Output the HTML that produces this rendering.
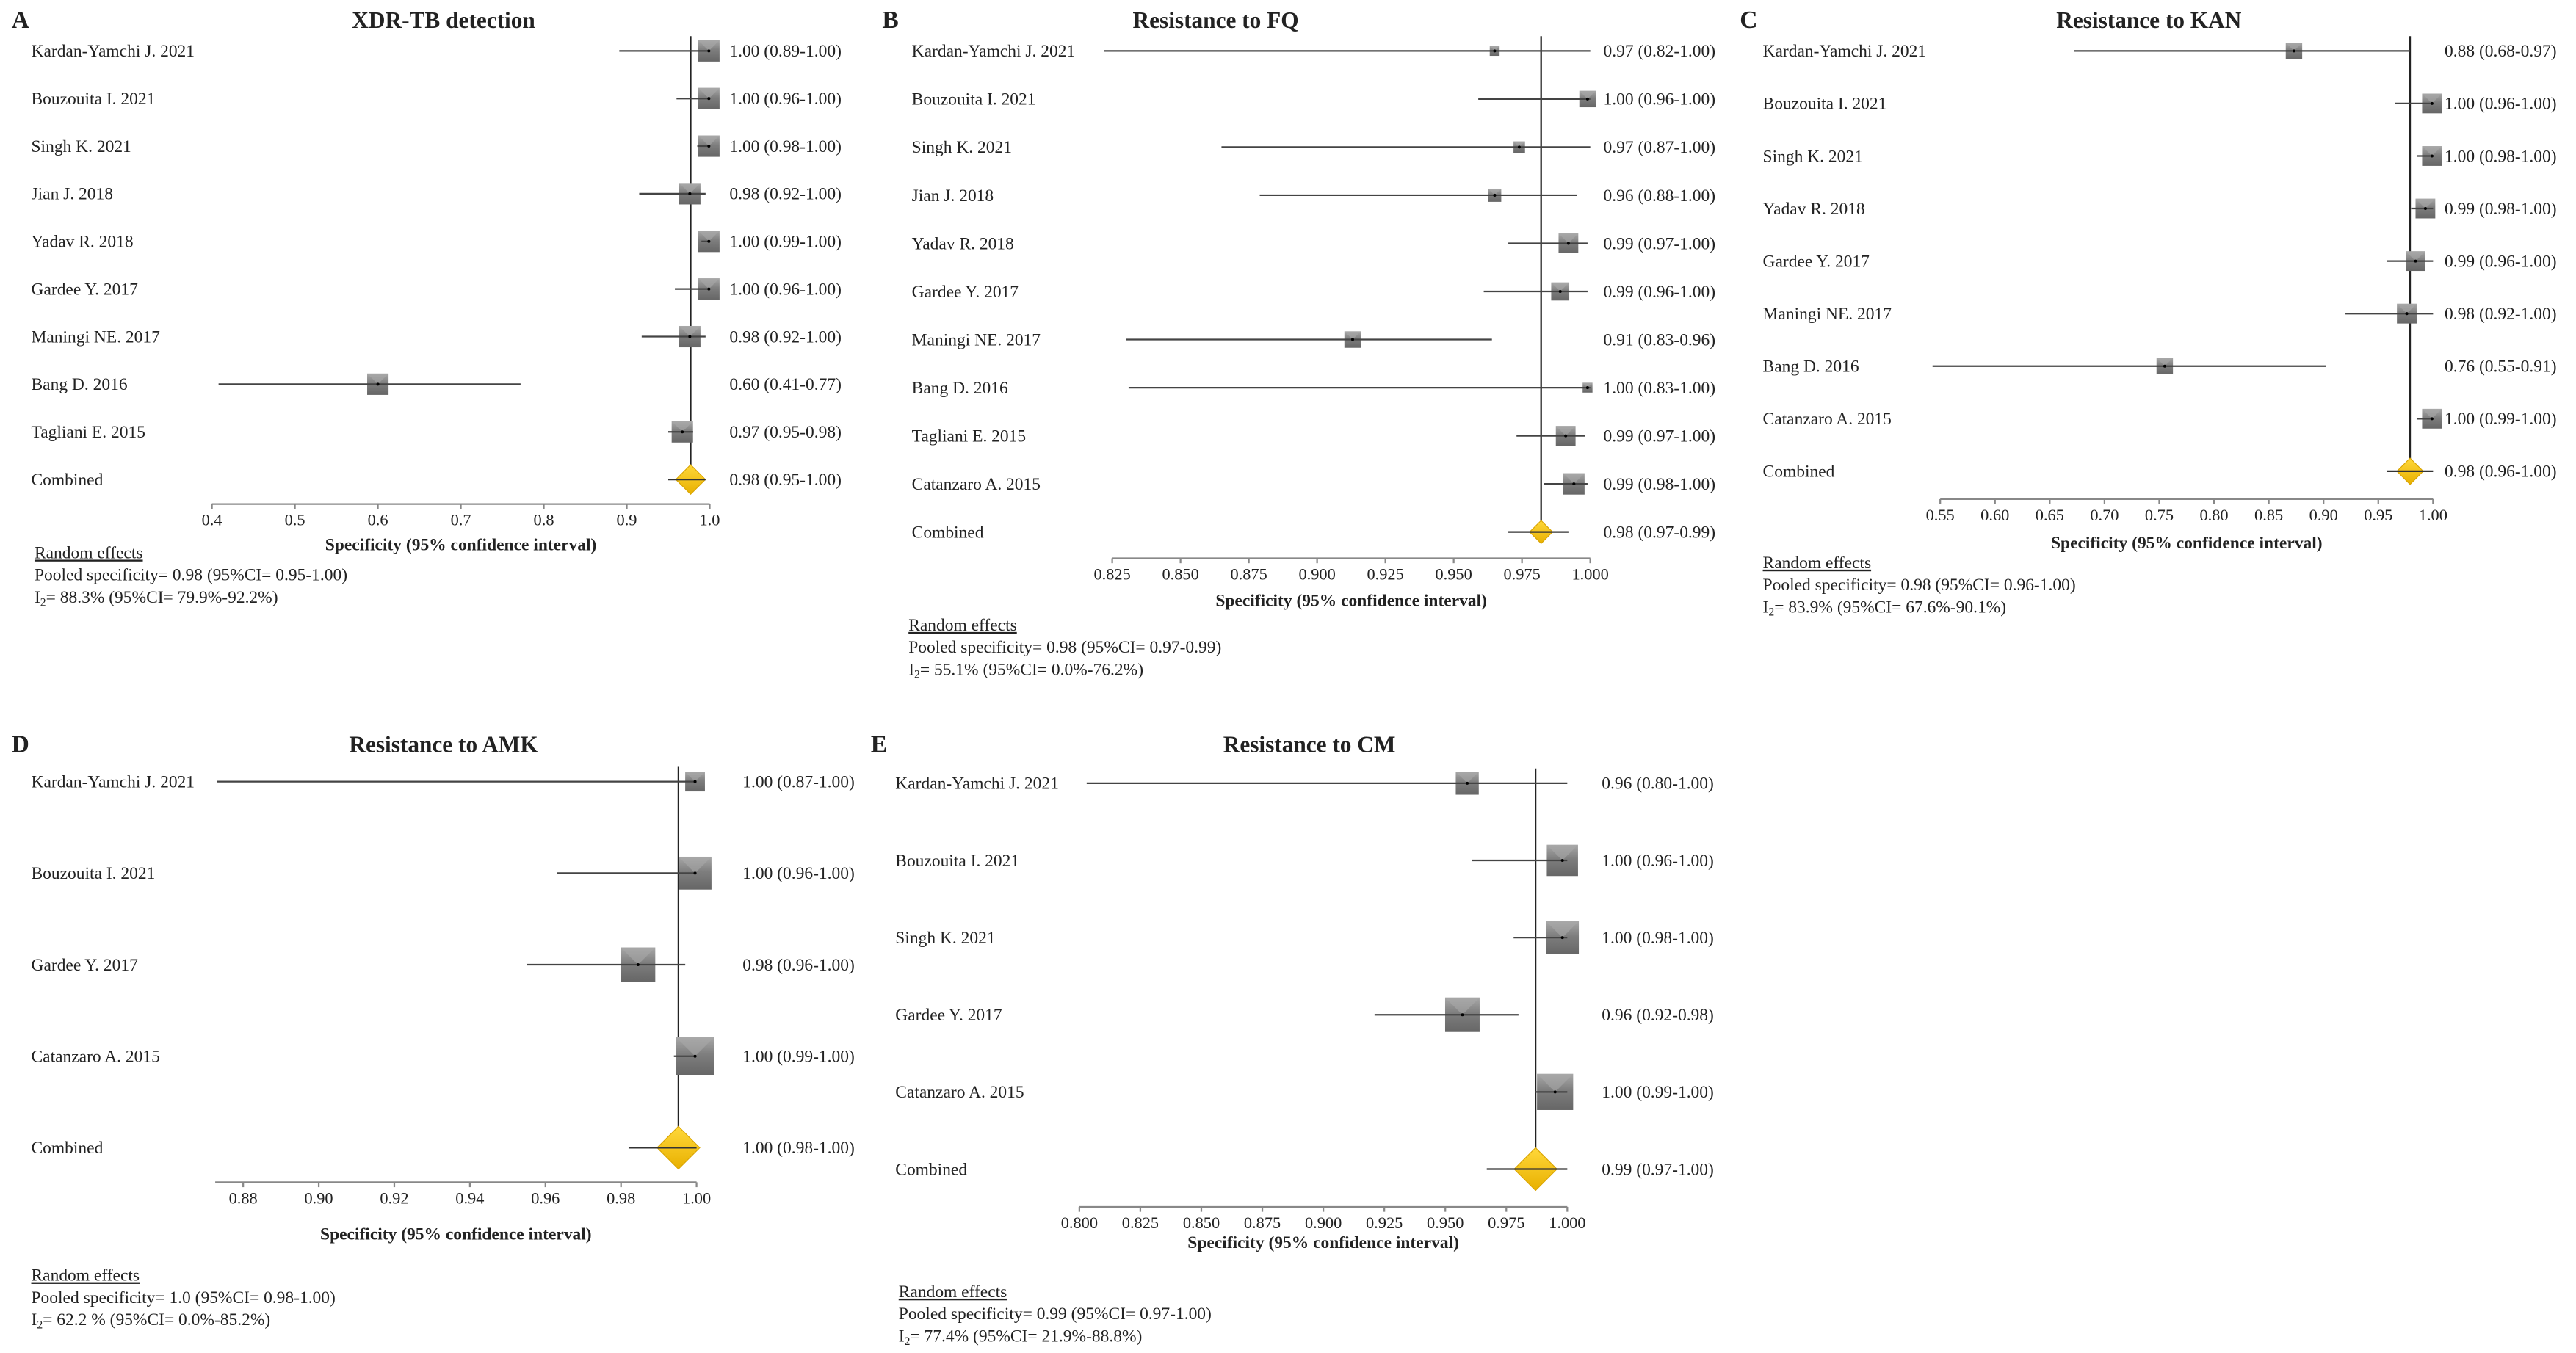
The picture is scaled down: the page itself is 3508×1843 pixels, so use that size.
<!DOCTYPE html>
<html><head><meta charset="utf-8"><style>
html,body{margin:0;padding:0;background:#fff;}
svg{display:block;}
text{font-family:"Liberation Serif",serif;fill:#222;}
</style></head><body>
<svg id="fig" width="3508" height="1843" viewBox="0 0 1568 824" preserveAspectRatio="none" xmlns="http://www.w3.org/2000/svg">
<defs>
<linearGradient id="boxg" x1="0" y1="0" x2="0" y2="1">
<stop offset="0" stop-color="#a8a8a8"/><stop offset="0.45" stop-color="#7e7e7e"/><stop offset="1" stop-color="#666"/>
</linearGradient>
<linearGradient id="diag" x1="0" y1="0" x2="0" y2="1">
<stop offset="0" stop-color="#ffd83a"/><stop offset="1" stop-color="#e8b000"/>
</linearGradient>
</defs>
</svg>
<script>
// ---- Panel A: XDR-TB detection ----
const aStudies = ["Kardan-Yamchi J. 2021","Bouzouita I. 2021","Singh K. 2021","Jian J. 2018","Yadav R. 2018","Gardee Y. 2017","Maningi NE. 2017","Bang D. 2016","Tagliani E. 2015","Combined"];
const aEst = [0.999,0.999,0.999,0.976,0.999,0.999,0.976,0.600,0.967,0.977];
const aLo  = [0.891,0.960,0.985,0.915,0.990,0.958,0.918,0.408,0.950,0.950];
const aHi  = [1.000,1.000,1.000,0.995,1.000,1.000,0.995,0.772,0.980,0.995];
const aWeight = [6.5,6.5,6.5,6.5,6.5,6.5,6.5,6.5,6.5,9];
const aText = ["1.00 (0.89-1.00)","1.00 (0.96-1.00)","1.00 (0.98-1.00)","0.98 (0.92-1.00)","1.00 (0.99-1.00)","1.00 (0.96-1.00)","0.98 (0.92-1.00)","0.60 (0.41-0.77)","0.97 (0.95-0.98)","0.98 (0.95-1.00)"];
const aTicks = [0.4,0.5,0.6,0.7,0.8,0.9,1.0];
const aTickLabels = ["0.4","0.5","0.6","0.7","0.8","0.9","1.0"];
const aDomain = [0.4,1.0];
// ---- Panel B: Resistance to FQ ----
const bStudies = ["Kardan-Yamchi J. 2021","Bouzouita I. 2021","Singh K. 2021","Jian J. 2018","Yadav R. 2018","Gardee Y. 2017","Maningi NE. 2017","Bang D. 2016","Tagliani E. 2015","Catanzaro A. 2015","Combined"];
const bEst = [0.965,0.999,0.974,0.965,0.992,0.989,0.913,0.999,0.991,0.994,0.982];
const bLo  = [0.822,0.959,0.865,0.879,0.970,0.961,0.830,0.831,0.973,0.983,0.970];
const bHi  = [1.000,1.000,1.000,0.995,0.999,0.999,0.964,1.000,0.998,0.999,0.992];
const bWeight = [3,5,3.5,4,6,5.5,5,3,6,6.5,7];
const bText = ["0.97 (0.82-1.00)","1.00 (0.96-1.00)","0.97 (0.87-1.00)","0.96 (0.88-1.00)","0.99 (0.97-1.00)","0.99 (0.96-1.00)","0.91 (0.83-0.96)","1.00 (0.83-1.00)","0.99 (0.97-1.00)","0.99 (0.98-1.00)","0.98 (0.97-0.99)"];
const bTicks = [0.825,0.85,0.875,0.9,0.925,0.95,0.975,1.0];
const bTickLabels = ["0.825","0.850","0.875","0.900","0.925","0.950","0.975","1.000"];
const bDomain = [0.825,1.0];
// ---- Panel C: Resistance to KAN ----
const cStudies = ["Kardan-Yamchi J. 2021","Bouzouita I. 2021","Singh K. 2021","Yadav R. 2018","Gardee Y. 2017","Maningi NE. 2017","Bang D. 2016","Catanzaro A. 2015","Combined"];
const cEst = [0.873,0.999,0.999,0.993,0.984,0.976,0.755,0.999,0.979];
const cLo  = [0.672,0.965,0.985,0.980,0.958,0.920,0.543,0.985,0.958];
const cHi  = [0.979,1.000,1.000,1.000,1.000,1.000,0.902,1.000,1.000];
const cWeight = [5,6,6,6,6,6,5,6,8];
const cText = ["0.88 (0.68-0.97)","1.00 (0.96-1.00)","1.00 (0.98-1.00)","0.99 (0.98-1.00)","0.99 (0.96-1.00)","0.98 (0.92-1.00)","0.76 (0.55-0.91)","1.00 (0.99-1.00)","0.98 (0.96-1.00)"];
const cTicks = [0.55,0.6,0.65,0.7,0.75,0.8,0.85,0.9,0.95,1.0];
const cTickLabels = ["0.55","0.60","0.65","0.70","0.75","0.80","0.85","0.90","0.95","1.00"];
const cDomain = [0.55,1.0];
// ---- Panel D: Resistance to AMK ----
const dStudies = ["Kardan-Yamchi J. 2021","Bouzouita I. 2021","Gardee Y. 2017","Catanzaro A. 2015","Combined"];
const dEst = [0.9996,0.9996,0.9845,0.9996,0.9952];
const dLo  = [0.873,0.963,0.955,0.994,0.982];
const dHi  = [1.000,1.000,0.997,1.000,1.000];
const dWeight = [6,10,10.5,11.5,13];
const dText = ["1.00 (0.87-1.00)","1.00 (0.96-1.00)","0.98 (0.96-1.00)","1.00 (0.99-1.00)","1.00 (0.98-1.00)"];
const dTicks = [0.88,0.9,0.92,0.94,0.96,0.98,1.0];
const dTickLabels = ["0.88","0.90","0.92","0.94","0.96","0.98","1.00"];
const dDomain = [0.8726,1.0];
// ---- Panel E: Resistance to CM ----
const eStudies = ["Kardan-Yamchi J. 2021","Bouzouita I. 2021","Singh K. 2021","Gardee Y. 2017","Catanzaro A. 2015","Combined"];
const eEst = [0.959,0.998,0.998,0.957,0.995,0.987];
const eLo  = [0.803,0.961,0.978,0.921,0.987,0.967];
const eHi  = [1.000,1.000,1.000,0.980,1.000,1.000];
const eWeight = [7,9.5,10,10.5,11,13];
const eText = ["0.96 (0.80-1.00)","1.00 (0.96-1.00)","1.00 (0.98-1.00)","0.96 (0.92-0.98)","1.00 (0.99-1.00)","0.99 (0.97-1.00)"];
const eTicks = [0.8,0.825,0.85,0.875,0.9,0.925,0.95,0.975,1.0];
const eTickLabels = ["0.800","0.825","0.850","0.875","0.900","0.925","0.950","0.975","1.000"];
const eDomain = [0.8,1.0];

const NS="http://www.w3.org/2000/svg";
const svg=document.getElementById('fig');
function mk(tag,attrs,parent,txt){const e=document.createElementNS(NS,tag);for(const k in attrs)e.setAttribute(k,attrs[k]);if(txt!==undefined)e.textContent=txt;(parent||svg).appendChild(e);return e;}

function drawPanel(p){
  const g=mk('g',{});
  
  
  const xs=v=>p.x0+(v-p.domain[0])/(p.domain[1]-p.domain[0])*(p.x1-p.x0);
  const n=p.studies.length;
  const ys=i=>p.rowTop+i*(p.rowBot-p.rowTop)/(n-1);
  const letter=mk('text',{x:p.letterX,y:p.titleY+5,'font-size':15,'font-weight':'bold'},g,p.letter);
  
  
  const title=mk('text',{x:p.titleX,y:p.titleY+5,'font-size':14,'font-weight':'bold','text-anchor':'middle'},g,p.title);
  
  
  const ce=p.est[n-1];
  const ref=mk('line',{x1:xs(ce),x2:xs(ce),y1:ys(0)-9,y2:ys(n-1),stroke:'#222','stroke-width':1},g);
  
  
  for(let i=0;i<n;i++){
    const y=ys(i);
    const lab=mk('text',{x:p.labelX,y:y+3.5,'font-size':10.5},g,p.studies[i]);
    
    
    const val=mk('text',{x:p.valueX,y:y+3.5,'font-size':10.5},g,p.text[i]);
    
    
    const s=p.weight[i];
    if(i===n-1){
      const cx=xs(p.est[i]);
      const d=mk('polygon',{points:`${cx},${y-s} ${cx+s},${y} ${cx},${y+s} ${cx-s},${y}`,fill:'url(#diag)',stroke:'#d9a400','stroke-width':0.5},g);
      
      
      const ci=mk('line',{x1:xs(p.lo[i]),x2:xs(p.hi[i]),y1:y,y2:y,stroke:'#333','stroke-width':1},g);
      
      
    } else {
      const cx=xs(p.est[i]);
      const b=mk('rect',{x:cx-s,y:y-s,width:2*s,height:2*s,fill:'url(#boxg)'},g);
      
      
      mk('polygon',{points:`${cx-s},${y-s} ${cx+s},${y-s} ${cx},${y}`,fill:'#a8a8a8','fill-opacity':0.6},g);
      const ci=mk('line',{x1:xs(p.lo[i]),x2:xs(p.hi[i]),y1:y,y2:y,stroke:'#444','stroke-width':1},g);
      
      
      mk('circle',{cx:cx,cy:y,r:0.9,fill:'#000'},g);
    }
  }
  const ax=mk('line',{x1:xs(p.domain[0]),x2:xs(p.domain[1]),y1:p.axisY,y2:p.axisY,stroke:'#888','stroke-width':1},g);
  
  
  p.ticks.forEach((t,j)=>{
    mk('line',{x1:xs(t),x2:xs(t),y1:p.axisY,y2:p.axisY+3,stroke:'#888','stroke-width':1},g);
    const tl=mk('text',{x:xs(t),y:p.axisY+13,'font-size':10,'text-anchor':'middle',fill:'#444'},g,p.tickLabels[j]);
    
    
  });
  const at=mk('text',{x:(p.x0+p.x1)/2+p.axTitleDx,y:p.axTitleY,'font-size':10.5,'font-weight':'bold','text-anchor':'middle'},g,'Specificity (95% confidence interval)');
  
  
  const re=mk('text',{x:p.reX,y:p.reY,'font-size':10.5,'text-decoration':'underline'},g,'Random effects');
  
  
  const pe=mk('text',{x:p.reX,y:p.reY+13.5,'font-size':10.5},g,p.pooled);
  
  
  const i2=mk('text',{x:p.reX,y:p.reY+27,'font-size':10.5},g);
  
  
  mk('tspan',{},i2,'I');
  mk('tspan',{'font-size':7,dy:2},i2,'2');
  mk('tspan',{dy:-2},i2,p.i2);
}

drawPanel({key:'a',letter:'A',letterX:7,title:'XDR-TB detection',titleX:270,titleY:12,studies:aStudies,est:aEst,lo:aLo,hi:aHi,weight:aWeight,text:aText,ticks:aTicks,tickLabels:aTickLabels,domain:aDomain,
  x0:129,x1:432,rowTop:31,rowBot:292,axisY:307,labelX:19,valueX:444,axTitleDx:0,axTitleY:335,reX:21,reY:340,pooled:'Pooled specificity= 0.98 (95%CI= 0.95-1.00)',i2:'= 88.3% (95%CI= 79.9%-92.2%)'});
drawPanel({key:'b',letter:'B',letterX:537,title:'Resistance to FQ',titleX:740,titleY:12,studies:bStudies,est:bEst,lo:bLo,hi:bHi,weight:bWeight,text:bText,ticks:bTicks,tickLabels:bTickLabels,domain:bDomain,
  x0:677,x1:968,rowTop:31,rowBot:324,axisY:340,labelX:555,valueX:976,axTitleDx:0,axTitleY:369,reX:553,reY:384,pooled:'Pooled specificity= 0.98 (95%CI= 0.97-0.99)',i2:'= 55.1% (95%CI= 0.0%-76.2%)'});
drawPanel({key:'c',letter:'C',letterX:1059,title:'Resistance to KAN',titleX:1308,titleY:12,studies:cStudies,est:cEst,lo:cLo,hi:cHi,weight:cWeight,text:cText,ticks:cTicks,tickLabels:cTickLabels,domain:cDomain,
  x0:1181,x1:1481,rowTop:31,rowBot:287,axisY:304,labelX:1073,valueX:1488,axTitleDx:0,axTitleY:334,reX:1073,reY:346,pooled:'Pooled specificity= 0.98 (95%CI= 0.96-1.00)',i2:'= 83.9% (95%CI= 67.6%-90.1%)'});
drawPanel({key:'d',letter:'D',letterX:7,title:'Resistance to AMK',titleX:270,titleY:453,studies:dStudies,est:dEst,lo:dLo,hi:dHi,weight:dWeight,text:dText,ticks:dTicks,tickLabels:dTickLabels,domain:dDomain,
  x0:131,x1:424,rowTop:476,rowBot:699,axisY:720,labelX:19,valueX:452,axTitleDx:0,axTitleY:755,reX:19,reY:780,pooled:'Pooled specificity= 1.0 (95%CI= 0.98-1.00)',i2:'= 62.2 % (95%CI= 0.0%-85.2%)'});
drawPanel({key:'e',letter:'E',letterX:530,title:'Resistance to CM',titleX:797,titleY:453,studies:eStudies,est:eEst,lo:eLo,hi:eHi,weight:eWeight,text:eText,ticks:eTicks,tickLabels:eTickLabels,domain:eDomain,
  x0:657,x1:954,rowTop:477,rowBot:712,axisY:735,labelX:545,valueX:975,axTitleDx:0,axTitleY:760,reX:547,reY:790,pooled:'Pooled specificity= 0.99 (95%CI= 0.97-1.00)',i2:'= 77.4% (95%CI= 21.9%-88.8%)'});
</script>
</body></html>
